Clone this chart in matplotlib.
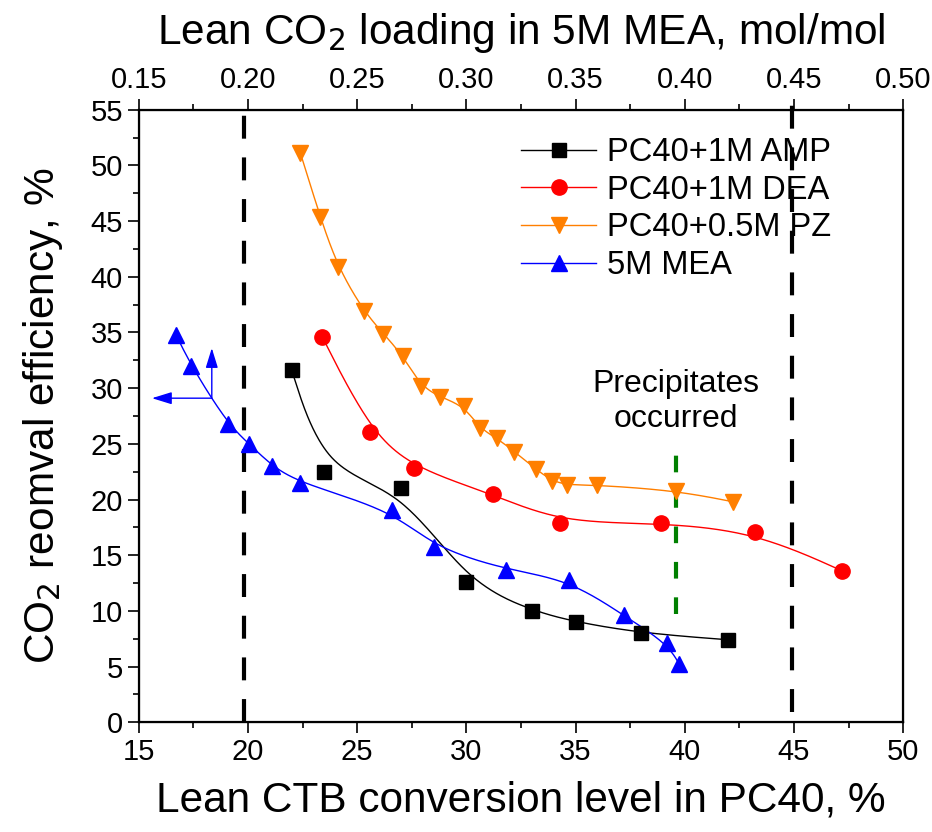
import numpy as np
import matplotlib
matplotlib.use("Agg")
import matplotlib.pyplot as plt
from matplotlib.ticker import MultipleLocator, FixedLocator

plt.rcParams["font.family"] = ["Liberation Sans", "DejaVu Sans"]

# data
amp_x = [22.0, 23.5, 27.0, 30.0, 33.0, 35.0, 38.0, 42.0]
amp_y = [31.6, 22.5, 21.0, 12.6, 10.0, 9.0, 8.0, 7.4]

dea_x = [23.4, 25.6, 27.6, 31.2, 34.3, 38.9, 43.2, 47.2]
dea_y = [34.6, 26.1, 22.8, 20.5, 17.9, 17.9, 17.1, 13.6]

pz_x = [22.4, 23.3, 24.1, 25.3, 26.2, 27.1, 27.9, 28.8, 29.9, 30.6, 31.4,
        32.2, 33.2, 33.9, 34.6, 36.0, 39.6, 42.2]
pz_y = [51.1, 45.4, 40.9, 36.9, 34.9, 32.9, 30.2, 29.2, 28.4, 26.4, 25.5,
        24.3, 22.7, 21.7, 21.3, 21.3, 20.8, 19.8]

mea_x = [16.7, 17.4, 19.06, 20.05, 21.1, 22.4, 26.6, 28.5, 31.8, 34.7,
         37.2, 39.2, 39.75]
mea_y = [34.8, 32.0, 26.8, 25.0, 23.0, 21.45, 19.05, 15.7, 13.7, 12.8,
         9.6, 7.07, 5.2]

labels = ["PC40+1M AMP", "PC40+1M DEA", "PC40+0.5M PZ", "5M MEA"]
limit_x = [19.8, 44.9]
precip_x = 39.6
top_ticks = [0.15, 0.20, 0.25, 0.30, 0.35, 0.40, 0.45, 0.50]


def bspline(x, y, n=40):
    # cubic B-spline with the data as control points (ends clamped)
    px = np.r_[x[0], x[0], x, x[-1], x[-1]]
    py = np.r_[y[0], y[0], y, y[-1], y[-1]]
    t = np.linspace(0, 1, n)
    b0 = (1 - t) ** 3 / 6
    b1 = (3 * t ** 3 - 6 * t ** 2 + 4) / 6
    b2 = (-3 * t ** 3 + 3 * t ** 2 + 3 * t + 1) / 6
    b3 = t ** 3 / 6
    cx, cy = [], []
    for i in range(len(px) - 3):
        cx.append(b0 * px[i] + b1 * px[i + 1] + b2 * px[i + 2] + b3 * px[i + 3])
        cy.append(b0 * py[i] + b1 * py[i + 1] + b2 * py[i + 2] + b3 * py[i + 3])
    return np.concatenate(cx), np.concatenate(cy)


fig = plt.figure(figsize=(9.32, 8.32), dpi=100)
ax = fig.add_axes([0.149, 0.132, 0.820, 0.736])

series = [
    (amp_x, amp_y, "black", "s", 9.5),
    (dea_x, dea_y, "red", "o", 11),
    (pz_x, pz_y, "#ff7f00", "v", 12),
    (mea_x, mea_y, "blue", "^", 12),
]
handles = []
for (sx, sy, c, m, ms), lab in zip(series, labels):
    cx, cy = bspline(sx, sy)
    ax.plot(cx, cy, color=c, lw=1.0, zorder=3)
    ax.plot(sx, sy, ls="none", marker=m, ms=ms, color=c, mec=c, zorder=4)
    h, = ax.plot([], [], color=c, lw=1.0, marker=m, ms=ms, mec=c)
    handles.append(h)

# boundary lines
ax.plot([limit_x[0]] * 2, [0, 55.6], color="black", lw=3, dashes=(5.5, 4.5),
        clip_on=False, zorder=2)
ax.plot([limit_x[1]] * 2, [0.9, 57.0], color="black", lw=3, dashes=(5.5, 4.5),
        clip_on=False, zorder=2)
ax.plot([precip_x] * 2, [9.7, 25.4], color="green", lw=3, dashes=(4, 4.5),
        zorder=2)
ax.text(precip_x, 28.8, "Precipitates\noccurred", ha="center", va="center",
        fontsize=23, linespacing=1.2)

# axis arrows for the MEA curve
arrow = dict(arrowstyle="-|>,head_length=0.55,head_width=0.17", color="blue",
             lw=1, mutation_scale=22, shrinkA=0, shrinkB=0)
ax.annotate("", xy=(15.6, 29.1), xytext=(18.34, 29.1), arrowprops=arrow)
ax.annotate("", xy=(18.34, 33.6), xytext=(18.34, 29.1), arrowprops=arrow)

ax.set_xlim(15, 50)
ax.set_ylim(0, 55)
ax.xaxis.set_major_locator(MultipleLocator(5))
ax.xaxis.set_minor_locator(MultipleLocator(2.5))
ax.yaxis.set_major_locator(MultipleLocator(5))
ax.yaxis.set_minor_locator(MultipleLocator(2.5))
ax.tick_params(which="both", direction="out", width=1.2, labelsize=21)
ax.tick_params(which="major", length=8)
ax.tick_params(which="minor", length=4)
for s in ax.spines.values():
    s.set_linewidth(1.6)

ax.set_xlabel("Lean CTB conversion level in PC40, %", fontsize=30.5, labelpad=10)
ax.set_ylabel("CO$_2$ reomval efficiency, %", fontsize=30.5, labelpad=18)

top = ax.twiny()
top.set_xlim(0.15, 0.50)
top.xaxis.set_major_locator(FixedLocator(top_ticks))
top.xaxis.set_minor_locator(MultipleLocator(0.025))
top.set_xticklabels([f"{v:.2f}" for v in top_ticks])
top.tick_params(which="both", direction="out", width=1.2, labelsize=21)
top.tick_params(which="major", length=8)
top.tick_params(which="minor", length=4)
top.set_xlabel("Lean CO$_2$ loading in 5M MEA, mol/mol", fontsize=30.5,
               labelpad=16)

ax.legend(handles, labels, loc="upper left", bbox_to_anchor=(0.50, 0.955),
          frameon=False, fontsize=23.5, handlelength=2.3, handletextpad=0.35,
          labelspacing=0.2, borderaxespad=0, borderpad=0)

fig.savefig("out.png", dpi=100)
